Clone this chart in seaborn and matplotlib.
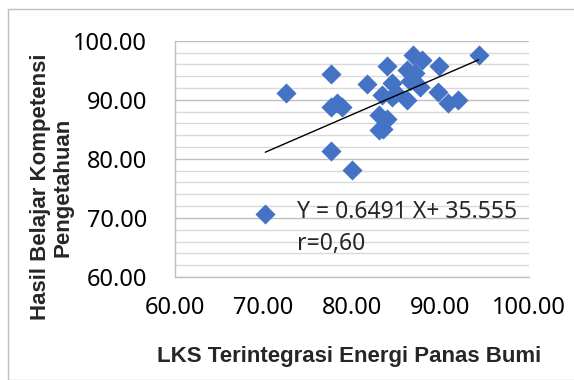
import numpy as np
import pandas as pd
import matplotlib
matplotlib.use("Agg")
import matplotlib.pyplot as plt
import seaborn as sns
from matplotlib.patches import Rectangle
from matplotlib.ticker import MultipleLocator

# Data
lks = [70.2, 72.5, 77.6, 77.6, 78.3, 78.9, 77.6, 80.0, 81.7, 83.9,
       86.9, 87.9, 89.8, 87.1, 84.5, 83.4, 87.7, 86.2, 89.7, 90.9,
       92.0, 83.0, 83.9, 83.0, 83.5, 85.0, 86.5, 94.3, 84.5, 86.2]
hasil = [70.6, 91.2, 94.4, 88.8, 89.5, 88.7, 81.3, 78.1, 92.6, 95.7,
         97.6, 96.7, 95.8, 94.5, 92.8, 90.8, 92.2, 90.0, 91.4, 89.4,
         90.0, 87.4, 86.8, 84.9, 85.0, 91.2, 93.2, 97.6, 90.5, 95.0]
slope = 0.6491
intercept = 35.555
x_ticks = [60, 70, 80, 90, 100]
y_ticks = [60, 70, 80, 90, 100]
eq_text = "Y = 0.6491 X+ 35.555"
r_text = "r=0,60"
x_label = "LKS Terintegrasi Energi Panas Bumi"
y_label = "Hasil Belajar Kompetensi\nPengetahuan"

df = pd.DataFrame({"lks": lks, "hasil": hasil})

sns.set_theme(style="white")
plt.rcParams['font.family'] = ['Noto Sans', 'DejaVu Sans']

fig = plt.figure(figsize=(5.74, 3.80), dpi=100)
ax = fig.add_axes([175/574, 1-277/380, (529-175)/574, (277-40.7)/380])

# gridlines
ax.yaxis.set_minor_locator(MultipleLocator(2))
ax.grid(axis="y", which="minor", color="#d9d9d9", linewidth=1.0, zorder=0)
ax.grid(axis="y", which="major", color="#bfbfbf", linewidth=1.0, zorder=0)
ax.grid(axis="x", visible=False)
ax.set_axisbelow(True)

sns.scatterplot(data=df, x="lks", y="hasil", marker="D", s=105,
                color="#4472C4", linewidth=0, ax=ax, zorder=3)

xs = np.array([min(lks), max(lks)])
ax.plot(xs, slope*xs + intercept, color="black", linewidth=1.0, zorder=4)

ax.set_xlim(60, 100)
ax.set_ylim(60, 100)
ax.set_xticks(x_ticks)
ax.set_yticks(y_ticks)
ax.set_xticklabels([f"{v:.2f}" for v in x_ticks], fontsize=17)
ax.set_yticklabels([f"{v:.2f}" for v in y_ticks], fontsize=17)
ax.tick_params(axis="x", which="major", direction="out", length=7, width=1,
               color="#bfbfbf", pad=7, labelcolor="black")
ax.tick_params(axis="y", which="major", direction="out", length=7, width=1,
               color="#bfbfbf", pad=13, labelcolor="black")
ax.tick_params(axis="y", which="minor", length=0)
for s in ["top", "right"]:
    ax.spines[s].set_visible(False)
for s in ["left", "bottom"]:
    ax.spines[s].set_color("#bfbfbf")
    ax.spines[s].set_linewidth(1)
ax.set_xlabel("")
ax.set_ylabel("")

ax.text(73.8, 69.95, eq_text, fontsize=16.5, va="baseline", ha="left", zorder=5)
ax.text(73.8, 64.5, r_text, fontsize=16.5, va="baseline", ha="left", zorder=5)

label_font = ["Liberation Sans", "DejaVu Sans"]
fig.text(349/574, 1-362/380, x_label, fontsize=16, fontweight="bold",
         family=label_font, ha="center", va="baseline")
fig.text(52/574, 1-187/380, y_label, fontsize=16, fontweight="bold",
         family=label_font, ha="center", va="center", rotation=90,
         multialignment="center", linespacing=1.08)

fig.patches.append(Rectangle((7.5/574, 0), 1.2, (380-9)/380, transform=fig.transFigure,
                             fill=False, edgecolor="#bfbfbf", linewidth=1.0))

fig.savefig("out.png", dpi=100)
